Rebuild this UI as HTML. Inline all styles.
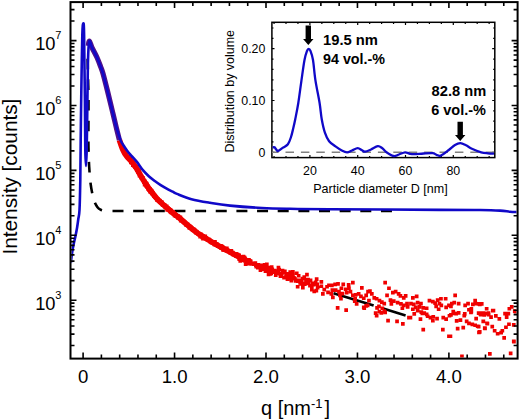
<!DOCTYPE html>
<html><head><meta charset="utf-8"><style>
html,body{margin:0;padding:0;background:#fff;}
svg{display:block;}
</style></head><body>
<svg width="520" height="420" viewBox="0 0 520 420">
<rect width="520" height="420" fill="#fff"/>
<defs><clipPath id="c"><rect x="71.5" y="3" width="445" height="354.6"/></clipPath></defs>
<g clip-path="url(#c)">
<path d="M87.60 58.70 C87.68 62.25 87.95 73.12 88.10 80.00 C88.25 86.88 88.45 90.00 88.50 100.00 C88.55 110.00 88.37 130.83 88.40 140.00 C88.43 149.17 88.57 150.50 88.70 155.00 C88.83 159.50 88.92 162.50 89.20 167.00 C89.48 171.50 89.87 177.50 90.40 182.00 C90.93 186.50 91.72 190.70 92.40 194.00 C93.08 197.30 93.65 199.60 94.50 201.80 C95.35 204.00 96.50 205.88 97.50 207.20 C98.50 208.52 99.42 209.10 100.50 209.70 C101.58 210.30 103.08 210.58 104.00 210.80 C104.92 211.02 105.67 210.97 106.00 211.00" stroke="#000" stroke-width="2.6" fill="none" stroke-dasharray="10.7 9.95"/>
<path d="M112.5 211H400" stroke="#000" stroke-width="2.6" fill="none" stroke-dasharray="11 9.65"/>
<path d="M119.40 140.00 C119.97 141.58 121.60 146.80 122.80 149.50 C124.00 152.20 125.18 154.25 126.60 156.20 C128.02 158.15 129.72 159.30 131.30 161.20 C132.88 163.10 134.67 165.42 136.10 167.60 C137.53 169.78 138.70 172.23 139.90 174.30 C141.10 176.37 141.62 177.38 143.30 180.00 C144.98 182.62 147.77 186.95 150.00 190.00 C152.23 193.05 154.75 196.08 156.70 198.30 C158.65 200.52 159.48 201.27 161.70 203.30 C163.92 205.33 166.95 207.97 170.00 210.50 C173.05 213.03 175.77 215.00 180.00 218.50 C184.23 222.00 190.27 227.70 195.40 231.50 C200.53 235.30 205.67 238.22 210.80 241.30 C215.93 244.38 221.08 247.18 226.20 250.00 C231.32 252.82 237.53 256.20 241.50 258.20 C245.47 260.20 248.58 261.37 250.00 262.00" stroke="#f00000" stroke-width="5.6" fill="none" stroke-linejoin="round"/>
<path d="M125.9 155.3h3.6v3.6h-3.6zM126.8 154.8h3.6v3.6h-3.6zM126.9 155.2h3.6v3.6h-3.6zM127.6 157.2h3.6v3.6h-3.6zM128.0 157.0h3.6v3.6h-3.6zM128.0 157.5h3.6v3.6h-3.6zM128.0 158.1h3.6v3.6h-3.6zM128.1 158.1h3.6v3.6h-3.6zM129.1 158.7h3.6v3.6h-3.6zM129.0 160.6h3.6v3.6h-3.6zM129.5 159.0h3.6v3.6h-3.6zM129.8 159.4h3.6v3.6h-3.6zM129.9 159.8h3.6v3.6h-3.6zM131.1 160.5h3.6v3.6h-3.6zM130.7 161.3h3.6v3.6h-3.6zM131.6 161.0h3.6v3.6h-3.6zM131.0 163.3h3.6v3.6h-3.6zM131.0 161.7h3.6v3.6h-3.6zM132.0 163.9h3.6v3.6h-3.6zM131.8 161.0h3.6v3.6h-3.6zM132.6 162.7h3.6v3.6h-3.6zM132.5 163.8h3.6v3.6h-3.6zM133.0 164.1h3.6v3.6h-3.6zM133.1 165.1h3.6v3.6h-3.6zM134.0 164.7h3.6v3.6h-3.6zM133.6 165.5h3.6v3.6h-3.6zM134.2 164.7h3.6v3.6h-3.6zM134.1 166.5h3.6v3.6h-3.6zM134.5 166.0h3.6v3.6h-3.6zM134.9 166.6h3.6v3.6h-3.6zM135.0 165.6h3.6v3.6h-3.6zM135.9 167.5h3.6v3.6h-3.6zM135.2 168.5h3.6v3.6h-3.6zM135.8 168.2h3.6v3.6h-3.6zM136.3 170.2h3.6v3.6h-3.6zM136.4 170.1h3.6v3.6h-3.6zM137.2 168.7h3.6v3.6h-3.6zM136.4 170.3h3.6v3.6h-3.6zM136.2 170.0h3.6v3.6h-3.6zM137.5 171.3h3.6v3.6h-3.6zM137.5 169.7h3.6v3.6h-3.6zM138.3 171.8h3.6v3.6h-3.6zM137.9 172.1h3.6v3.6h-3.6zM137.3 171.1h3.6v3.6h-3.6zM137.7 173.8h3.6v3.6h-3.6zM138.1 172.8h3.6v3.6h-3.6zM138.5 173.7h3.6v3.6h-3.6zM139.0 173.9h3.6v3.6h-3.6zM138.6 171.9h3.6v3.6h-3.6zM139.3 174.6h3.6v3.6h-3.6zM139.8 174.7h3.6v3.6h-3.6zM139.4 175.4h3.6v3.6h-3.6zM139.3 174.8h3.6v3.6h-3.6zM139.7 176.1h3.6v3.6h-3.6zM141.0 176.8h3.6v3.6h-3.6zM141.0 176.9h3.6v3.6h-3.6zM140.9 176.9h3.6v3.6h-3.6zM141.1 176.0h3.6v3.6h-3.6zM141.1 177.3h3.6v3.6h-3.6zM142.0 179.0h3.6v3.6h-3.6zM142.3 179.9h3.6v3.6h-3.6zM142.0 179.9h3.6v3.6h-3.6zM143.0 179.5h3.6v3.6h-3.6zM143.0 179.8h3.6v3.6h-3.6zM142.3 180.3h3.6v3.6h-3.6zM142.8 180.7h3.6v3.6h-3.6zM143.2 181.2h3.6v3.6h-3.6zM142.8 182.9h3.6v3.6h-3.6zM144.3 181.6h3.6v3.6h-3.6zM143.8 182.2h3.6v3.6h-3.6zM144.6 182.9h3.6v3.6h-3.6zM144.8 181.7h3.6v3.6h-3.6zM144.5 184.4h3.6v3.6h-3.6zM145.3 182.8h3.6v3.6h-3.6zM145.2 183.3h3.6v3.6h-3.6zM145.4 185.5h3.6v3.6h-3.6zM146.0 185.9h3.6v3.6h-3.6zM146.4 184.5h3.6v3.6h-3.6zM146.4 187.5h3.6v3.6h-3.6zM146.6 185.6h3.6v3.6h-3.6zM147.6 186.8h3.6v3.6h-3.6zM147.4 188.1h3.6v3.6h-3.6zM147.0 187.8h3.6v3.6h-3.6zM147.6 186.8h3.6v3.6h-3.6zM147.9 189.0h3.6v3.6h-3.6zM148.4 187.3h3.6v3.6h-3.6zM148.4 190.1h3.6v3.6h-3.6zM149.5 188.6h3.6v3.6h-3.6zM150.3 189.5h3.6v3.6h-3.6zM149.3 190.1h3.6v3.6h-3.6zM150.3 191.7h3.6v3.6h-3.6zM150.7 190.7h3.6v3.6h-3.6zM150.4 190.3h3.6v3.6h-3.6zM150.9 191.3h3.6v3.6h-3.6zM151.3 191.2h3.6v3.6h-3.6zM151.3 191.8h3.6v3.6h-3.6zM151.4 192.0h3.6v3.6h-3.6zM151.7 192.4h3.6v3.6h-3.6zM152.6 193.6h3.6v3.6h-3.6zM152.2 194.3h3.6v3.6h-3.6zM153.1 195.3h3.6v3.6h-3.6zM153.2 194.5h3.6v3.6h-3.6zM153.3 195.0h3.6v3.6h-3.6zM154.0 195.4h3.6v3.6h-3.6zM154.0 196.0h3.6v3.6h-3.6zM154.4 196.1h3.6v3.6h-3.6zM154.3 196.4h3.6v3.6h-3.6zM154.5 195.9h3.6v3.6h-3.6zM155.3 198.4h3.6v3.6h-3.6zM156.0 197.3h3.6v3.6h-3.6zM155.9 198.4h3.6v3.6h-3.6zM156.8 198.9h3.6v3.6h-3.6zM156.5 198.5h3.6v3.6h-3.6zM156.7 198.4h3.6v3.6h-3.6zM156.8 198.7h3.6v3.6h-3.6zM156.7 198.4h3.6v3.6h-3.6zM157.9 198.8h3.6v3.6h-3.6zM158.2 198.9h3.6v3.6h-3.6zM158.2 200.4h3.6v3.6h-3.6zM158.3 199.9h3.6v3.6h-3.6zM160.0 200.3h3.6v3.6h-3.6zM159.2 200.7h3.6v3.6h-3.6zM159.9 201.5h3.6v3.6h-3.6zM160.5 202.3h3.6v3.6h-3.6zM160.3 201.8h3.6v3.6h-3.6zM160.3 201.2h3.6v3.6h-3.6zM160.8 203.1h3.6v3.6h-3.6zM161.4 203.4h3.6v3.6h-3.6zM162.0 203.0h3.6v3.6h-3.6zM162.8 203.0h3.6v3.6h-3.6zM162.1 203.4h3.6v3.6h-3.6zM163.1 203.9h3.6v3.6h-3.6zM162.8 204.6h3.6v3.6h-3.6zM163.8 204.5h3.6v3.6h-3.6zM163.6 205.7h3.6v3.6h-3.6zM164.4 205.9h3.6v3.6h-3.6zM164.2 205.7h3.6v3.6h-3.6zM164.9 204.6h3.6v3.6h-3.6zM165.6 206.2h3.6v3.6h-3.6zM165.4 208.1h3.6v3.6h-3.6zM166.0 206.3h3.6v3.6h-3.6zM166.3 207.5h3.6v3.6h-3.6zM167.0 207.4h3.6v3.6h-3.6zM166.7 207.2h3.6v3.6h-3.6zM167.1 207.3h3.6v3.6h-3.6zM167.8 208.0h3.6v3.6h-3.6zM168.2 208.1h3.6v3.6h-3.6zM168.2 208.8h3.6v3.6h-3.6zM168.7 210.1h3.6v3.6h-3.6zM168.8 209.6h3.6v3.6h-3.6zM169.5 208.8h3.6v3.6h-3.6zM170.1 210.1h3.6v3.6h-3.6zM169.4 210.7h3.6v3.6h-3.6zM170.8 210.0h3.6v3.6h-3.6zM171.4 210.9h3.6v3.6h-3.6zM170.7 211.4h3.6v3.6h-3.6zM171.3 210.3h3.6v3.6h-3.6zM171.0 211.7h3.6v3.6h-3.6zM171.8 212.3h3.6v3.6h-3.6zM172.6 211.7h3.6v3.6h-3.6zM172.6 213.6h3.6v3.6h-3.6zM173.7 213.1h3.6v3.6h-3.6zM173.3 212.2h3.6v3.6h-3.6zM173.7 214.3h3.6v3.6h-3.6zM174.3 213.2h3.6v3.6h-3.6zM174.1 213.8h3.6v3.6h-3.6zM174.6 214.0h3.6v3.6h-3.6zM175.5 215.1h3.6v3.6h-3.6zM175.7 214.4h3.6v3.6h-3.6zM176.1 216.2h3.6v3.6h-3.6zM176.6 214.3h3.6v3.6h-3.6zM177.4 215.8h3.6v3.6h-3.6zM178.6 215.6h3.6v3.6h-3.6zM177.7 216.1h3.6v3.6h-3.6zM178.3 216.3h3.6v3.6h-3.6zM178.0 215.6h3.6v3.6h-3.6zM178.7 216.8h3.6v3.6h-3.6zM178.9 219.0h3.6v3.6h-3.6zM179.7 218.5h3.6v3.6h-3.6zM179.5 218.2h3.6v3.6h-3.6zM180.0 218.1h3.6v3.6h-3.6zM180.6 219.0h3.6v3.6h-3.6zM180.8 218.9h3.6v3.6h-3.6zM180.5 218.6h3.6v3.6h-3.6zM181.5 219.1h3.6v3.6h-3.6zM181.4 219.9h3.6v3.6h-3.6zM181.7 219.5h3.6v3.6h-3.6zM182.7 220.0h3.6v3.6h-3.6zM183.2 220.9h3.6v3.6h-3.6zM183.3 221.7h3.6v3.6h-3.6zM182.6 221.1h3.6v3.6h-3.6zM183.3 221.2h3.6v3.6h-3.6zM184.1 222.7h3.6v3.6h-3.6zM184.5 223.3h3.6v3.6h-3.6zM184.6 222.4h3.6v3.6h-3.6zM185.2 223.4h3.6v3.6h-3.6zM185.5 222.6h3.6v3.6h-3.6zM185.8 222.4h3.6v3.6h-3.6zM186.7 224.3h3.6v3.6h-3.6zM186.8 224.2h3.6v3.6h-3.6zM186.8 224.1h3.6v3.6h-3.6zM187.7 224.1h3.6v3.6h-3.6zM187.5 226.1h3.6v3.6h-3.6zM188.7 225.5h3.6v3.6h-3.6zM188.7 225.8h3.6v3.6h-3.6zM189.4 225.6h3.6v3.6h-3.6zM189.3 226.6h3.6v3.6h-3.6zM190.1 226.4h3.6v3.6h-3.6zM190.1 226.5h3.6v3.6h-3.6zM190.1 226.7h3.6v3.6h-3.6zM190.8 228.1h3.6v3.6h-3.6zM190.8 227.3h3.6v3.6h-3.6zM191.3 228.3h3.6v3.6h-3.6zM192.1 227.5h3.6v3.6h-3.6zM192.3 227.9h3.6v3.6h-3.6zM192.8 228.2h3.6v3.6h-3.6zM192.5 228.7h3.6v3.6h-3.6zM193.2 228.7h3.6v3.6h-3.6zM193.7 229.8h3.6v3.6h-3.6zM194.0 230.2h3.6v3.6h-3.6zM194.7 229.7h3.6v3.6h-3.6zM194.8 230.5h3.6v3.6h-3.6zM194.4 231.1h3.6v3.6h-3.6zM195.3 230.6h3.6v3.6h-3.6zM195.8 231.4h3.6v3.6h-3.6zM196.4 232.0h3.6v3.6h-3.6zM196.4 232.4h3.6v3.6h-3.6zM197.2 231.9h3.6v3.6h-3.6zM197.4 233.0h3.6v3.6h-3.6zM198.0 233.1h3.6v3.6h-3.6zM198.3 233.9h3.6v3.6h-3.6zM199.6 233.6h3.6v3.6h-3.6zM198.3 235.0h3.6v3.6h-3.6zM199.1 232.4h3.6v3.6h-3.6zM198.7 234.3h3.6v3.6h-3.6zM200.6 235.0h3.6v3.6h-3.6zM200.4 235.7h3.6v3.6h-3.6zM200.9 234.1h3.6v3.6h-3.6zM201.3 235.1h3.6v3.6h-3.6zM201.7 235.5h3.6v3.6h-3.6zM201.1 236.8h3.6v3.6h-3.6zM202.2 236.2h3.6v3.6h-3.6zM202.5 236.0h3.6v3.6h-3.6zM203.1 234.6h3.6v3.6h-3.6zM203.8 236.8h3.6v3.6h-3.6zM203.5 234.6h3.6v3.6h-3.6zM204.1 236.0h3.6v3.6h-3.6zM204.8 237.0h3.6v3.6h-3.6zM205.9 237.8h3.6v3.6h-3.6zM205.4 237.6h3.6v3.6h-3.6zM204.6 236.8h3.6v3.6h-3.6zM205.9 237.8h3.6v3.6h-3.6zM206.8 238.3h3.6v3.6h-3.6zM207.5 237.7h3.6v3.6h-3.6zM207.6 238.5h3.6v3.6h-3.6zM207.9 239.1h3.6v3.6h-3.6zM208.1 239.2h3.6v3.6h-3.6zM208.6 240.2h3.6v3.6h-3.6zM208.9 239.8h3.6v3.6h-3.6zM210.6 240.3h3.6v3.6h-3.6zM210.0 240.9h3.6v3.6h-3.6zM209.7 240.8h3.6v3.6h-3.6zM210.9 240.8h3.6v3.6h-3.6zM211.4 241.4h3.6v3.6h-3.6zM211.9 240.3h3.6v3.6h-3.6zM212.0 240.6h3.6v3.6h-3.6zM212.7 241.5h3.6v3.6h-3.6zM212.0 241.7h3.6v3.6h-3.6zM212.5 242.7h3.6v3.6h-3.6zM213.2 240.1h3.6v3.6h-3.6zM213.6 243.2h3.6v3.6h-3.6zM214.3 241.9h3.6v3.6h-3.6zM214.8 243.2h3.6v3.6h-3.6zM215.6 243.8h3.6v3.6h-3.6zM215.5 242.5h3.6v3.6h-3.6zM215.8 243.7h3.6v3.6h-3.6zM216.1 244.0h3.6v3.6h-3.6zM216.0 244.4h3.6v3.6h-3.6zM216.9 244.4h3.6v3.6h-3.6zM217.3 244.0h3.6v3.6h-3.6zM217.8 245.2h3.6v3.6h-3.6zM217.9 245.0h3.6v3.6h-3.6zM218.1 245.3h3.6v3.6h-3.6zM218.9 244.0h3.6v3.6h-3.6zM219.8 244.6h3.6v3.6h-3.6zM219.7 244.4h3.6v3.6h-3.6zM219.3 246.4h3.6v3.6h-3.6zM219.8 244.2h3.6v3.6h-3.6zM220.8 244.9h3.6v3.6h-3.6zM221.2 248.1h3.6v3.6h-3.6zM221.5 247.0h3.6v3.6h-3.6zM222.3 247.1h3.6v3.6h-3.6zM222.4 248.5h3.6v3.6h-3.6zM222.8 247.7h3.6v3.6h-3.6zM223.3 246.4h3.6v3.6h-3.6zM223.8 247.8h3.6v3.6h-3.6zM224.3 248.6h3.6v3.6h-3.6zM225.1 246.5h3.6v3.6h-3.6zM224.6 248.0h3.6v3.6h-3.6zM224.8 249.0h3.6v3.6h-3.6zM225.6 249.0h3.6v3.6h-3.6zM225.3 248.3h3.6v3.6h-3.6zM226.4 248.9h3.6v3.6h-3.6zM226.6 249.5h3.6v3.6h-3.6zM227.2 248.9h3.6v3.6h-3.6zM228.5 249.4h3.6v3.6h-3.6zM228.5 250.8h3.6v3.6h-3.6zM229.0 250.0h3.6v3.6h-3.6zM228.6 251.1h3.6v3.6h-3.6zM229.6 248.9h3.6v3.6h-3.6zM228.7 250.7h3.6v3.6h-3.6zM230.2 251.2h3.6v3.6h-3.6zM231.0 250.8h3.6v3.6h-3.6zM232.4 252.7h3.6v3.6h-3.6zM232.2 252.4h3.6v3.6h-3.6zM231.1 252.6h3.6v3.6h-3.6zM232.2 253.0h3.6v3.6h-3.6zM232.9 253.4h3.6v3.6h-3.6zM232.9 252.7h3.6v3.6h-3.6zM233.7 252.6h3.6v3.6h-3.6zM234.0 254.1h3.6v3.6h-3.6zM235.4 253.5h3.6v3.6h-3.6zM235.3 252.9h3.6v3.6h-3.6zM235.2 254.4h3.6v3.6h-3.6zM236.0 253.5h3.6v3.6h-3.6zM236.4 254.7h3.6v3.6h-3.6zM237.1 255.6h3.6v3.6h-3.6zM237.2 254.6h3.6v3.6h-3.6zM237.4 254.4h3.6v3.6h-3.6zM237.3 253.7h3.6v3.6h-3.6zM237.4 254.4h3.6v3.6h-3.6zM238.3 255.8h3.6v3.6h-3.6zM238.1 255.8h3.6v3.6h-3.6zM239.2 256.9h3.6v3.6h-3.6zM239.3 256.4h3.6v3.6h-3.6zM239.5 257.2h3.6v3.6h-3.6zM239.6 256.9h3.6v3.6h-3.6zM239.8 258.5h3.6v3.6h-3.6zM241.8 255.4h3.6v3.6h-3.6zM241.7 256.2h3.6v3.6h-3.6zM241.7 257.4h3.6v3.6h-3.6zM242.6 258.9h3.6v3.6h-3.6zM243.3 257.2h3.6v3.6h-3.6zM244.0 258.8h3.6v3.6h-3.6zM244.8 259.1h3.6v3.6h-3.6zM244.2 258.1h3.6v3.6h-3.6zM245.2 258.2h3.6v3.6h-3.6zM246.1 258.9h3.6v3.6h-3.6zM246.1 259.0h3.6v3.6h-3.6zM246.5 258.1h3.6v3.6h-3.6zM247.8 259.1h3.6v3.6h-3.6zM246.8 258.2h3.6v3.6h-3.6zM247.4 258.6h3.6v3.6h-3.6zM247.9 261.0h3.6v3.6h-3.6zM248.2 259.7h3.6v3.6h-3.6z" fill="#f00000"/>
<path d="M88.30 46.00 C88.48 45.20 88.78 40.93 89.40 41.20 C90.02 41.47 90.75 44.92 92.00 47.60 C93.25 50.28 95.45 54.10 96.90 57.30 C98.35 60.50 99.68 64.10 100.70 66.80 C101.72 69.50 101.87 69.47 103.00 73.50 C104.13 77.53 105.98 84.92 107.50 91.00 C109.02 97.08 110.62 103.83 112.10 110.00 C113.58 116.17 115.18 123.00 116.40 128.00 C117.62 133.00 118.90 138.00 119.40 140.00" stroke="#50108a" stroke-width="5.2" fill="none" stroke-linejoin="round"/>
<path d="M333.5 293.2 L405.6 315.4" stroke="#000" stroke-width="2.6" fill="none" stroke-dasharray="42 10"/>
<path d="M234.2 252.0h3.7v3.7h-3.7zM234.9 254.4h3.7v3.7h-3.7zM235.5 252.5h3.7v3.7h-3.7zM235.9 254.4h3.7v3.7h-3.7zM236.5 253.2h3.7v3.7h-3.7zM236.9 253.3h3.7v3.7h-3.7zM237.4 257.2h3.7v3.7h-3.7zM238.0 256.9h3.7v3.7h-3.7zM238.4 259.1h3.7v3.7h-3.7zM239.0 255.6h3.7v3.7h-3.7zM239.7 256.4h3.7v3.7h-3.7zM240.3 256.7h3.7v3.7h-3.7zM240.6 257.0h3.7v3.7h-3.7zM241.0 257.7h3.7v3.7h-3.7zM241.6 254.8h3.7v3.7h-3.7zM242.1 258.2h3.7v3.7h-3.7zM242.8 255.7h3.7v3.7h-3.7zM243.3 257.8h3.7v3.7h-3.7zM243.8 262.3h3.7v3.7h-3.7zM244.5 258.3h3.7v3.7h-3.7zM245.2 258.2h3.7v3.7h-3.7zM245.7 259.7h3.7v3.7h-3.7zM246.1 259.1h3.7v3.7h-3.7zM246.8 258.0h3.7v3.7h-3.7zM247.3 261.9h3.7v3.7h-3.7zM247.7 259.0h3.7v3.7h-3.7zM248.1 261.1h3.7v3.7h-3.7zM248.9 259.4h3.7v3.7h-3.7zM249.4 262.1h3.7v3.7h-3.7zM250.1 261.5h3.7v3.7h-3.7zM250.6 262.0h3.7v3.7h-3.7zM251.4 261.9h3.7v3.7h-3.7zM252.1 262.3h3.7v3.7h-3.7zM252.5 262.4h3.7v3.7h-3.7zM252.9 262.1h3.7v3.7h-3.7zM253.5 261.2h3.7v3.7h-3.7zM254.0 263.2h3.7v3.7h-3.7zM254.4 264.8h3.7v3.7h-3.7zM255.1 264.0h3.7v3.7h-3.7zM255.5 264.1h3.7v3.7h-3.7zM256.0 265.9h3.7v3.7h-3.7zM256.5 262.9h3.7v3.7h-3.7zM257.2 264.1h3.7v3.7h-3.7zM257.9 265.6h3.7v3.7h-3.7zM258.6 268.3h3.7v3.7h-3.7zM259.0 267.4h3.7v3.7h-3.7zM259.5 264.9h3.7v3.7h-3.7zM260.0 263.4h3.7v3.7h-3.7zM260.4 266.9h3.7v3.7h-3.7zM260.8 266.4h3.7v3.7h-3.7zM261.4 264.2h3.7v3.7h-3.7zM262.2 267.2h3.7v3.7h-3.7zM262.8 262.9h3.7v3.7h-3.7zM263.2 264.6h3.7v3.7h-3.7zM263.6 269.2h3.7v3.7h-3.7zM264.1 264.8h3.7v3.7h-3.7zM264.5 266.5h3.7v3.7h-3.7zM265.0 262.6h3.7v3.7h-3.7zM265.8 269.2h3.7v3.7h-3.7zM266.3 265.8h3.7v3.7h-3.7zM266.7 272.5h3.7v3.7h-3.7zM267.2 269.1h3.7v3.7h-3.7zM267.8 268.1h3.7v3.7h-3.7zM268.4 272.1h3.7v3.7h-3.7zM268.9 270.0h3.7v3.7h-3.7zM269.3 271.6h3.7v3.7h-3.7zM269.8 265.2h3.7v3.7h-3.7zM270.4 267.6h3.7v3.7h-3.7zM270.9 270.4h3.7v3.7h-3.7zM271.2 268.7h3.7v3.7h-3.7zM271.7 268.8h3.7v3.7h-3.7zM272.1 269.9h3.7v3.7h-3.7zM272.6 268.8h3.7v3.7h-3.7zM273.1 269.5h3.7v3.7h-3.7zM273.9 273.3h3.7v3.7h-3.7zM274.6 270.0h3.7v3.7h-3.7zM275.2 271.0h3.7v3.7h-3.7zM275.5 271.2h3.7v3.7h-3.7zM276.3 269.3h3.7v3.7h-3.7zM276.6 265.7h3.7v3.7h-3.7zM277.3 267.7h3.7v3.7h-3.7zM277.8 271.9h3.7v3.7h-3.7zM278.6 274.3h3.7v3.7h-3.7zM279.3 273.3h3.7v3.7h-3.7zM280.0 271.9h3.7v3.7h-3.7zM280.7 268.8h3.7v3.7h-3.7zM281.5 270.5h3.7v3.7h-3.7zM282.2 275.9h3.7v3.7h-3.7zM283.0 269.4h3.7v3.7h-3.7zM283.7 275.6h3.7v3.7h-3.7zM284.3 271.9h3.7v3.7h-3.7zM284.9 272.1h3.7v3.7h-3.7zM285.6 277.2h3.7v3.7h-3.7zM286.4 276.0h3.7v3.7h-3.7zM287.1 274.2h3.7v3.7h-3.7zM287.8 272.2h3.7v3.7h-3.7zM288.4 270.3h3.7v3.7h-3.7zM288.8 276.9h3.7v3.7h-3.7zM289.5 278.8h3.7v3.7h-3.7zM290.0 276.1h3.7v3.7h-3.7zM290.5 274.6h3.7v3.7h-3.7zM291.1 272.8h3.7v3.7h-3.7zM291.9 276.0h3.7v3.7h-3.7zM292.4 276.6h3.7v3.7h-3.7zM293.0 276.9h3.7v3.7h-3.7zM293.8 278.2h3.7v3.7h-3.7zM294.9 271.4h3.7v3.7h-3.7zM295.9 279.4h3.7v3.7h-3.7zM297.0 278.6h3.7v3.7h-3.7zM298.3 281.0h3.7v3.7h-3.7zM299.6 280.6h3.7v3.7h-3.7zM300.7 276.8h3.7v3.7h-3.7zM301.7 281.4h3.7v3.7h-3.7zM303.0 282.2h3.7v3.7h-3.7zM304.2 278.1h3.7v3.7h-3.7zM305.1 272.7h3.7v3.7h-3.7zM306.0 278.0h3.7v3.7h-3.7zM306.8 281.5h3.7v3.7h-3.7zM307.8 278.4h3.7v3.7h-3.7zM308.7 278.6h3.7v3.7h-3.7zM310.0 285.3h3.7v3.7h-3.7zM310.8 281.5h3.7v3.7h-3.7zM311.5 282.8h3.7v3.7h-3.7zM312.7 281.8h3.7v3.7h-3.7zM313.8 280.6h3.7v3.7h-3.7zM314.5 288.8h3.7v3.7h-3.7zM315.3 282.5h3.7v3.7h-3.7zM330.0 283.6h3.7v3.7h-3.7zM333.3 282.6h3.7v3.7h-3.7zM336.2 282.1h3.7v3.7h-3.7zM341.4 282.6h3.7v3.7h-3.7zM346.8 283.1h3.7v3.7h-3.7zM351.0 280.8h3.7v3.7h-3.7zM347.1 286.4h3.7v3.7h-3.7zM343.8 287.4h3.7v3.7h-3.7zM339.5 286.4h3.7v3.7h-3.7zM337.1 289.8h3.7v3.7h-3.7zM333.8 288.3h3.7v3.7h-3.7zM330.5 288.3h3.7v3.7h-3.7zM329.5 292.1h3.7v3.7h-3.7zM331.0 295.5h3.7v3.7h-3.7zM338.1 293.6h3.7v3.7h-3.7zM340.5 291.8h3.7v3.7h-3.7zM344.8 290.8h3.7v3.7h-3.7zM348.6 289.8h3.7v3.7h-3.7zM351.0 293.6h3.7v3.7h-3.7zM353.8 293.1h3.7v3.7h-3.7zM356.8 292.1h3.7v3.7h-3.7zM360.0 286.0h3.7v3.7h-3.7zM359.1 294.5h3.7v3.7h-3.7zM361.9 296.4h3.7v3.7h-3.7zM364.3 293.6h3.7v3.7h-3.7zM366.2 289.8h3.7v3.7h-3.7zM339.1 296.9h3.7v3.7h-3.7zM352.9 299.3h3.7v3.7h-3.7zM354.8 302.1h3.7v3.7h-3.7zM353.3 296.9h3.7v3.7h-3.7zM335.8 306.0h3.7v3.7h-3.7zM344.3 308.3h3.7v3.7h-3.7zM361.9 305.5h3.7v3.7h-3.7zM365.8 303.6h3.7v3.7h-3.7zM367.1 298.8h3.7v3.7h-3.7zM362.4 306.4h3.7v3.7h-3.7zM364.3 304.1h3.7v3.7h-3.7zM383.3 280.8h3.7v3.7h-3.7zM387.1 286.4h3.7v3.7h-3.7zM391.0 290.8h3.7v3.7h-3.7zM393.8 289.8h3.7v3.7h-3.7zM396.8 292.1h3.7v3.7h-3.7zM398.6 294.1h3.7v3.7h-3.7zM403.8 294.1h3.7v3.7h-3.7zM401.9 296.0h3.7v3.7h-3.7zM385.2 293.6h3.7v3.7h-3.7zM388.6 298.3h3.7v3.7h-3.7zM391.9 299.3h3.7v3.7h-3.7zM389.5 302.1h3.7v3.7h-3.7zM395.8 300.8h3.7v3.7h-3.7zM399.1 302.1h3.7v3.7h-3.7zM401.9 303.6h3.7v3.7h-3.7zM405.2 301.8h3.7v3.7h-3.7zM368.1 289.3h3.7v3.7h-3.7zM370.0 292.1h3.7v3.7h-3.7zM372.4 296.0h3.7v3.7h-3.7zM374.8 296.9h3.7v3.7h-3.7zM377.6 298.8h3.7v3.7h-3.7zM380.0 300.2h3.7v3.7h-3.7zM382.4 301.8h3.7v3.7h-3.7zM377.1 304.5h3.7v3.7h-3.7zM375.2 306.0h3.7v3.7h-3.7zM380.5 306.4h3.7v3.7h-3.7zM377.6 309.8h3.7v3.7h-3.7zM373.8 311.2h3.7v3.7h-3.7zM382.4 309.3h3.7v3.7h-3.7zM405.8 305.0h3.7v3.7h-3.7zM400.5 306.4h3.7v3.7h-3.7zM374.8 313.9h3.7v3.7h-3.7zM379.5 311.1h3.7v3.7h-3.7zM383.3 310.6h3.7v3.7h-3.7zM386.2 318.8h3.7v3.7h-3.7zM395.2 319.6h3.7v3.7h-3.7zM401.0 322.0h3.7v3.7h-3.7zM407.1 315.8h3.7v3.7h-3.7zM411.0 296.0h3.7v3.7h-3.7zM414.8 294.5h3.7v3.7h-3.7zM409.1 301.8h3.7v3.7h-3.7zM411.9 302.6h3.7v3.7h-3.7zM415.8 300.8h3.7v3.7h-3.7zM419.1 301.8h3.7v3.7h-3.7zM413.8 305.5h3.7v3.7h-3.7zM417.6 305.0h3.7v3.7h-3.7zM421.4 306.0h3.7v3.7h-3.7zM424.8 306.4h3.7v3.7h-3.7zM411.0 307.4h3.7v3.7h-3.7zM415.8 308.8h3.7v3.7h-3.7zM419.5 310.2h3.7v3.7h-3.7zM422.4 311.2h3.7v3.7h-3.7zM427.6 298.8h3.7v3.7h-3.7zM431.0 299.8h3.7v3.7h-3.7zM433.3 301.2h3.7v3.7h-3.7zM435.8 298.3h3.7v3.7h-3.7zM439.1 296.9h3.7v3.7h-3.7zM443.8 296.9h3.7v3.7h-3.7zM437.6 301.8h3.7v3.7h-3.7zM434.3 304.5h3.7v3.7h-3.7zM439.5 303.6h3.7v3.7h-3.7zM436.8 307.4h3.7v3.7h-3.7zM444.3 305.5h3.7v3.7h-3.7zM447.1 303.6h3.7v3.7h-3.7zM408.6 315.8h3.7v3.7h-3.7zM412.4 312.0h3.7v3.7h-3.7zM418.6 317.2h3.7v3.7h-3.7zM420.5 311.5h3.7v3.7h-3.7zM424.8 312.5h3.7v3.7h-3.7zM425.8 314.4h3.7v3.7h-3.7zM428.6 315.8h3.7v3.7h-3.7zM431.0 318.8h3.7v3.7h-3.7zM431.4 314.9h3.7v3.7h-3.7zM435.2 316.8h3.7v3.7h-3.7zM441.4 315.8h3.7v3.7h-3.7zM444.3 317.2h3.7v3.7h-3.7zM447.6 313.9h3.7v3.7h-3.7zM421.4 327.8h3.7v3.7h-3.7zM441.0 327.8h3.7v3.7h-3.7zM447.1 334.4h3.7v3.7h-3.7zM453.3 293.6h3.7v3.7h-3.7zM450.0 301.8h3.7v3.7h-3.7zM452.4 300.8h3.7v3.7h-3.7zM456.8 301.8h3.7v3.7h-3.7zM449.1 304.5h3.7v3.7h-3.7zM451.4 309.8h3.7v3.7h-3.7zM454.3 311.8h3.7v3.7h-3.7zM463.3 303.6h3.7v3.7h-3.7zM466.2 301.8h3.7v3.7h-3.7zM467.1 307.9h3.7v3.7h-3.7zM469.5 306.9h3.7v3.7h-3.7zM469.5 309.8h3.7v3.7h-3.7zM471.0 302.6h3.7v3.7h-3.7zM473.3 298.8h3.7v3.7h-3.7zM473.8 301.8h3.7v3.7h-3.7zM476.8 302.1h3.7v3.7h-3.7zM479.5 302.1h3.7v3.7h-3.7zM484.8 306.9h3.7v3.7h-3.7zM476.8 311.2h3.7v3.7h-3.7zM479.5 311.2h3.7v3.7h-3.7zM462.9 312.1h3.7v3.7h-3.7zM449.1 313.0h3.7v3.7h-3.7zM451.9 311.5h3.7v3.7h-3.7zM456.8 311.1h3.7v3.7h-3.7zM462.4 313.9h3.7v3.7h-3.7zM454.8 319.1h3.7v3.7h-3.7zM458.6 318.2h3.7v3.7h-3.7zM464.8 319.6h3.7v3.7h-3.7zM467.1 321.5h3.7v3.7h-3.7zM470.5 322.5h3.7v3.7h-3.7zM473.3 323.4h3.7v3.7h-3.7zM475.8 324.4h3.7v3.7h-3.7zM474.3 316.8h3.7v3.7h-3.7zM478.6 312.5h3.7v3.7h-3.7zM482.4 313.0h3.7v3.7h-3.7zM481.4 319.6h3.7v3.7h-3.7zM485.2 321.5h3.7v3.7h-3.7zM482.9 326.3h3.7v3.7h-3.7zM477.1 330.6h3.7v3.7h-3.7zM455.8 326.8h3.7v3.7h-3.7zM461.4 325.8h3.7v3.7h-3.7zM448.6 334.4h3.7v3.7h-3.7zM469.1 310.6h3.7v3.7h-3.7zM478.0 302.6h3.7v3.7h-3.7zM479.9 302.1h3.7v3.7h-3.7zM484.8 306.9h3.7v3.7h-3.7zM490.9 308.8h3.7v3.7h-3.7zM481.8 311.2h3.7v3.7h-3.7zM486.6 311.2h3.7v3.7h-3.7zM503.2 311.8h3.7v3.7h-3.7zM507.5 306.9h3.7v3.7h-3.7zM509.9 305.0h3.7v3.7h-3.7zM512.9 309.3h3.7v3.7h-3.7zM479.1 312.9h3.7v3.7h-3.7zM483.2 311.8h3.7v3.7h-3.7zM486.8 312.9h3.7v3.7h-3.7zM489.2 315.2h3.7v3.7h-3.7zM494.0 314.1h3.7v3.7h-3.7zM497.5 317.0h3.7v3.7h-3.7zM491.6 308.8h3.7v3.7h-3.7zM481.5 319.4h3.7v3.7h-3.7zM485.6 321.8h3.7v3.7h-3.7zM476.8 324.8h3.7v3.7h-3.7zM483.2 326.6h3.7v3.7h-3.7zM477.9 330.1h3.7v3.7h-3.7zM490.4 324.8h3.7v3.7h-3.7zM492.8 328.9h3.7v3.7h-3.7zM495.8 331.9h3.7v3.7h-3.7zM499.3 330.8h3.7v3.7h-3.7zM500.5 328.9h3.7v3.7h-3.7zM504.1 325.4h3.7v3.7h-3.7zM504.8 315.2h3.7v3.7h-3.7zM506.5 311.8h3.7v3.7h-3.7zM507.1 322.4h3.7v3.7h-3.7zM511.9 323.0h3.7v3.7h-3.7zM502.3 336.1h3.7v3.7h-3.7zM511.9 339.6h3.7v3.7h-3.7zM488.0 352.1h3.7v3.7h-3.7zM508.8 351.6h3.7v3.7h-3.7zM513.6 309.9h3.7v3.7h-3.7zM460.1 354.6h3.7v3.7h-3.7zM512.1 339.8h3.7v3.7h-3.7zM291.0 270.1h3.7v3.7h-3.7zM296.8 273.9h3.7v3.7h-3.7zM302.4 275.3h3.7v3.7h-3.7zM306.2 277.8h3.7v3.7h-3.7zM314.8 277.2h3.7v3.7h-3.7zM319.5 280.1h3.7v3.7h-3.7zM290.0 275.3h3.7v3.7h-3.7zM293.8 279.1h3.7v3.7h-3.7zM295.8 284.9h3.7v3.7h-3.7zM299.5 282.0h3.7v3.7h-3.7zM301.0 285.8h3.7v3.7h-3.7zM304.3 281.1h3.7v3.7h-3.7zM308.1 283.9h3.7v3.7h-3.7zM310.0 287.8h3.7v3.7h-3.7zM312.4 289.6h3.7v3.7h-3.7zM315.8 285.8h3.7v3.7h-3.7zM319.5 284.4h3.7v3.7h-3.7zM322.4 287.8h3.7v3.7h-3.7zM321.0 292.0h3.7v3.7h-3.7zM325.2 284.9h3.7v3.7h-3.7zM327.1 283.4h3.7v3.7h-3.7zM326.2 290.6h3.7v3.7h-3.7z" fill="#f00000"/>
<path d="M70.80 263.00 C71.03 261.17 71.70 255.25 72.20 252.00 C72.70 248.75 73.23 246.25 73.80 243.50 C74.37 240.75 75.05 238.17 75.60 235.50 C76.15 232.83 76.65 230.25 77.10 227.50 C77.55 224.75 77.90 221.92 78.30 219.00 C78.70 216.08 79.17 216.50 79.50 210.00 C79.83 203.50 80.10 191.67 80.30 180.00 C80.50 168.33 80.55 153.33 80.70 140.00 C80.85 126.67 81.02 113.33 81.20 100.00 C81.38 86.67 81.62 70.83 81.80 60.00 C81.98 49.17 82.13 40.83 82.30 35.00 C82.47 29.17 82.63 26.97 82.80 25.00 C82.97 23.03 83.13 23.20 83.30 23.20 C83.47 23.20 83.67 23.03 83.80 25.00 C83.93 26.97 84.00 29.17 84.10 35.00 C84.20 40.83 84.27 49.17 84.40 60.00 C84.53 70.83 84.75 85.00 84.90 100.00 C85.05 115.00 85.12 139.00 85.30 150.00 C85.48 161.00 85.77 166.00 86.00 166.00 C86.23 166.00 86.48 159.33 86.70 150.00 C86.92 140.67 87.12 123.33 87.30 110.00 C87.48 96.67 87.62 80.00 87.80 70.00 C87.98 60.00 88.15 54.75 88.40 50.00 C88.65 45.25 88.98 42.78 89.30 41.50 C89.62 40.22 89.85 41.30 90.30 42.30 C90.75 43.30 90.90 45.00 92.00 47.50 C93.10 50.00 95.45 54.08 96.90 57.30 C98.35 60.52 99.68 64.10 100.70 66.80 C101.72 69.50 101.87 69.47 103.00 73.50 C104.13 77.53 105.98 84.92 107.50 91.00 C109.02 97.08 110.58 103.83 112.10 110.00 C113.62 116.17 115.20 123.00 116.60 128.00 C118.00 133.00 119.33 137.08 120.50 140.00 C121.67 142.92 122.52 143.75 123.60 145.50 C124.68 147.25 125.68 148.78 127.00 150.50 C128.32 152.22 129.85 153.90 131.50 155.80 C133.15 157.70 135.00 159.50 136.90 161.90 C138.80 164.30 140.92 167.82 142.90 170.20 C144.88 172.58 146.82 174.40 148.80 176.20 C150.78 178.00 152.82 179.52 154.80 181.00 C156.78 182.48 158.72 183.82 160.70 185.10 C162.68 186.38 164.72 187.60 166.70 188.70 C168.68 189.80 170.88 190.83 172.60 191.70 C174.32 192.57 173.85 192.65 177.00 193.90 C180.15 195.15 186.00 197.72 191.50 199.20 C197.00 200.68 203.58 201.73 210.00 202.80 C216.42 203.87 221.33 204.73 230.00 205.60 C238.67 206.47 252.00 207.47 262.00 208.00 C272.00 208.53 278.67 208.60 290.00 208.80 C301.33 209.00 305.00 209.02 330.00 209.20 C355.00 209.38 415.00 209.77 440.00 209.90 C465.00 210.03 470.00 209.88 480.00 210.00 C490.00 210.12 495.00 210.32 500.00 210.60 C505.00 210.88 507.17 211.47 510.00 211.70 C512.83 211.93 515.83 211.95 517.00 212.00" stroke="#1008c8" stroke-width="2.6" fill="none" stroke-linejoin="round"/>
</g>
<rect x="70.5" y="2.1" width="447.1" height="356.5" fill="none" stroke="#000" stroke-width="2"/>
<path d="M70.5 345.56h4M517.6 345.56h-4M70.5 334.13h4M517.6 334.13h-4M70.5 326.03h4M517.6 326.03h-4M70.5 319.74h4M517.6 319.74h-4M70.5 314.60h4M517.6 314.60h-4M70.5 310.25h4M517.6 310.25h-4M70.5 306.49h4M517.6 306.49h-4M70.5 303.17h4M517.6 303.17h-4M70.5 300.20h6M517.6 300.20h-6M70.5 280.66h4M517.6 280.66h-4M70.5 269.23h4M517.6 269.23h-4M70.5 261.13h4M517.6 261.13h-4M70.5 254.84h4M517.6 254.84h-4M70.5 249.70h4M517.6 249.70h-4M70.5 245.35h4M517.6 245.35h-4M70.5 241.59h4M517.6 241.59h-4M70.5 238.27h4M517.6 238.27h-4M70.5 235.30h6M517.6 235.30h-6M70.5 215.76h4M517.6 215.76h-4M70.5 204.33h4M517.6 204.33h-4M70.5 196.23h4M517.6 196.23h-4M70.5 189.94h4M517.6 189.94h-4M70.5 184.80h4M517.6 184.80h-4M70.5 180.45h4M517.6 180.45h-4M70.5 176.69h4M517.6 176.69h-4M70.5 173.37h4M517.6 173.37h-4M70.5 170.40h6M517.6 170.40h-6M70.5 150.86h4M517.6 150.86h-4M70.5 139.43h4M517.6 139.43h-4M70.5 131.33h4M517.6 131.33h-4M70.5 125.04h4M517.6 125.04h-4M70.5 119.90h4M517.6 119.90h-4M70.5 115.55h4M517.6 115.55h-4M70.5 111.79h4M517.6 111.79h-4M70.5 108.47h4M517.6 108.47h-4M70.5 105.50h6M517.6 105.50h-6M70.5 85.96h4M517.6 85.96h-4M70.5 74.53h4M517.6 74.53h-4M70.5 66.43h4M517.6 66.43h-4M70.5 60.14h4M517.6 60.14h-4M70.5 55.00h4M517.6 55.00h-4M70.5 50.65h4M517.6 50.65h-4M70.5 46.89h4M517.6 46.89h-4M70.5 43.57h4M517.6 43.57h-4M70.5 40.60h6M517.6 40.60h-6M70.5 21.06h4M517.6 21.06h-4M70.5 9.63h4M517.6 9.63h-4M83.10 358.6v-6M83.10 2.1v6M101.39 358.6v-4M101.39 2.1v4M119.68 358.6v-4M119.68 2.1v4M137.97 358.6v-4M137.97 2.1v4M156.26 358.6v-4M156.26 2.1v4M174.55 358.6v-6M174.55 2.1v6M192.84 358.6v-4M192.84 2.1v4M211.13 358.6v-4M211.13 2.1v4M229.42 358.6v-4M229.42 2.1v4M247.71 358.6v-4M247.71 2.1v4M266.00 358.6v-6M266.00 2.1v6M284.29 358.6v-4M284.29 2.1v4M302.58 358.6v-4M302.58 2.1v4M320.87 358.6v-4M320.87 2.1v4M339.16 358.6v-4M339.16 2.1v4M357.45 358.6v-6M357.45 2.1v6M375.74 358.6v-4M375.74 2.1v4M394.03 358.6v-4M394.03 2.1v4M412.32 358.6v-4M412.32 2.1v4M430.61 358.6v-4M430.61 2.1v4M448.90 358.6v-6M448.90 2.1v6M467.19 358.6v-4M467.19 2.1v4M485.48 358.6v-4M485.48 2.1v4M503.77 358.6v-4M503.77 2.1v4" stroke="#000" stroke-width="1.6" fill="none"/>
<text x="35.2" y="309.8" font-size="18.3" font-family="Liberation Sans, sans-serif">10</text>
<text x="55.2" y="298.8" font-size="11" font-family="Liberation Sans, sans-serif">3</text>
<text x="35.2" y="244.9" font-size="18.3" font-family="Liberation Sans, sans-serif">10</text>
<text x="55.2" y="233.9" font-size="11" font-family="Liberation Sans, sans-serif">4</text>
<text x="35.2" y="180.0" font-size="18.3" font-family="Liberation Sans, sans-serif">10</text>
<text x="55.2" y="169.0" font-size="11" font-family="Liberation Sans, sans-serif">5</text>
<text x="35.2" y="115.1" font-size="18.3" font-family="Liberation Sans, sans-serif">10</text>
<text x="55.2" y="104.1" font-size="11" font-family="Liberation Sans, sans-serif">6</text>
<text x="35.2" y="50.2" font-size="18.3" font-family="Liberation Sans, sans-serif">10</text>
<text x="55.2" y="39.2" font-size="11" font-family="Liberation Sans, sans-serif">7</text>
<text x="83.1" y="382.8" font-size="18.6" text-anchor="middle" font-family="Liberation Sans, sans-serif">0</text>
<text x="174.6" y="382.8" font-size="18.6" text-anchor="middle" font-family="Liberation Sans, sans-serif">1.0</text>
<text x="266.0" y="382.8" font-size="18.6" text-anchor="middle" font-family="Liberation Sans, sans-serif">2.0</text>
<text x="357.5" y="382.8" font-size="18.6" text-anchor="middle" font-family="Liberation Sans, sans-serif">3.0</text>
<text x="448.9" y="382.8" font-size="18.6" text-anchor="middle" font-family="Liberation Sans, sans-serif">4.0</text>
<text transform="translate(17.2 254.6) rotate(-90)" font-size="20" textLength="156" lengthAdjust="spacingAndGlyphs" font-family="Liberation Sans, sans-serif">Intensity [counts]</text>
<text x="261" y="414.5" font-size="20" font-family="Liberation Sans, sans-serif" textLength="50" lengthAdjust="spacingAndGlyphs">q [nm</text>
<text x="311" y="407.6" font-size="13" font-family="Liberation Sans, sans-serif">-1</text>
<text x="324.5" y="414.5" font-size="20" font-family="Liberation Sans, sans-serif">]</text>
<rect x="271.9" y="22.3" width="222.90000000000003" height="135.29999999999998" fill="#fff" stroke="#000" stroke-width="1.5"/>
<path d="M271.9 152.30h2.6M494.8 152.30h-2.6M271.9 141.94h1.6M494.8 141.94h-1.6M271.9 131.58h1.6M494.8 131.58h-1.6M271.9 121.22h1.6M494.8 121.22h-1.6M271.9 110.86h1.6M494.8 110.86h-1.6M271.9 100.50h2.6M494.8 100.50h-2.6M271.9 90.14h1.6M494.8 90.14h-1.6M271.9 79.78h1.6M494.8 79.78h-1.6M271.9 69.42h1.6M494.8 69.42h-1.6M271.9 59.06h1.6M494.8 59.06h-1.6M271.9 48.70h2.6M494.8 48.70h-2.6M271.9 38.34h1.6M494.8 38.34h-1.6M271.9 27.98h1.6M494.8 27.98h-1.6M274.05 157.6v-1.6M274.05 22.3v1.6M286.00 157.6v-1.6M286.00 22.3v1.6M297.95 157.6v-1.6M297.95 22.3v1.6M309.90 157.6v-2.6M309.90 22.3v2.6M321.85 157.6v-1.6M321.85 22.3v1.6M333.80 157.6v-1.6M333.80 22.3v1.6M345.75 157.6v-1.6M345.75 22.3v1.6M357.70 157.6v-2.6M357.70 22.3v2.6M369.65 157.6v-1.6M369.65 22.3v1.6M381.60 157.6v-1.6M381.60 22.3v1.6M393.55 157.6v-1.6M393.55 22.3v1.6M405.50 157.6v-2.6M405.50 22.3v2.6M417.45 157.6v-1.6M417.45 22.3v1.6M429.40 157.6v-1.6M429.40 22.3v1.6M441.35 157.6v-1.6M441.35 22.3v1.6M453.30 157.6v-2.6M453.30 22.3v2.6M465.25 157.6v-1.6M465.25 22.3v1.6M477.20 157.6v-1.6M477.20 22.3v1.6M489.15 157.6v-1.6M489.15 22.3v1.6" stroke="#000" stroke-width="1.2" fill="none"/>
<line x1="271.9" y1="152.3" x2="494.8" y2="152.3" stroke="#808080" stroke-width="1.5" stroke-dasharray="8.5 6.9" stroke-dashoffset="1.8"/>
<path d="M272.60 147.50 C272.92 147.47 273.62 146.72 274.50 147.30 C275.38 147.88 276.55 150.90 277.90 151.00 C279.25 151.10 280.93 149.02 282.60 147.90 C284.27 146.78 286.50 146.12 287.90 144.30 C289.30 142.48 290.12 139.63 291.00 137.00 C291.88 134.37 292.48 131.50 293.20 128.50 C293.92 125.50 294.45 123.25 295.30 119.00 C296.15 114.75 297.27 109.48 298.30 103.00 C299.33 96.52 300.47 87.27 301.50 80.10 C302.53 72.93 303.58 64.85 304.50 60.00 C305.42 55.15 306.32 52.83 307.00 51.00 C307.68 49.17 308.02 49.00 308.60 49.00 C309.18 49.00 309.77 49.17 310.50 51.00 C311.23 52.83 312.18 55.15 313.00 60.00 C313.82 64.85 314.30 72.93 315.40 80.10 C316.50 87.27 318.55 96.52 319.60 103.00 C320.65 109.48 320.82 114.05 321.70 119.00 C322.58 123.95 323.67 129.00 324.90 132.70 C326.13 136.40 327.33 138.92 329.10 141.20 C330.87 143.48 333.38 144.85 335.50 146.40 C337.62 147.95 339.87 149.52 341.80 150.50 C343.73 151.48 345.40 152.30 347.10 152.30 C348.80 152.30 350.23 151.20 352.00 150.50 C353.77 149.80 356.03 148.13 357.70 148.10 C359.37 148.07 360.78 149.70 362.00 150.30 C363.22 150.90 363.50 151.83 365.00 151.70 C366.50 151.57 368.87 150.42 371.00 149.50 C373.13 148.58 375.97 146.45 377.80 146.20 C379.63 145.95 380.55 146.98 382.00 148.00 C383.45 149.02 384.58 150.97 386.50 152.30 C388.42 153.63 391.42 155.63 393.50 156.00 C395.58 156.37 397.08 155.12 399.00 154.50 C400.92 153.88 403.17 152.42 405.00 152.30 C406.83 152.18 408.47 153.48 410.00 153.80 C411.53 154.12 411.95 154.25 414.20 154.20 C416.45 154.15 420.42 153.67 423.50 153.50 C426.58 153.33 430.53 152.98 432.70 153.20 C434.87 153.42 435.15 154.40 436.50 154.80 C437.85 155.20 438.75 156.40 440.80 155.60 C442.85 154.80 446.43 151.77 448.80 150.00 C451.17 148.23 453.07 146.13 455.00 145.00 C456.93 143.87 458.57 143.15 460.40 143.20 C462.23 143.25 464.08 144.37 466.00 145.30 C467.92 146.23 469.37 147.63 471.90 148.80 C474.43 149.97 478.52 151.55 481.20 152.30 C483.88 153.05 485.87 153.08 488.00 153.30 C490.13 153.52 493.00 153.55 494.00 153.60" stroke="#1008c8" stroke-width="2.3" fill="none" stroke-linejoin="round"/>
<text x="265.4" y="53.1" font-size="12.4" text-anchor="end" font-family="Liberation Sans, sans-serif">0.20</text>
<text x="265.4" y="104.9" font-size="12.4" text-anchor="end" font-family="Liberation Sans, sans-serif">0.10</text>
<text x="265.4" y="156.7" font-size="12.4" text-anchor="end" font-family="Liberation Sans, sans-serif">0</text>
<text x="309.9" y="174.6" font-size="12.4" text-anchor="middle" font-family="Liberation Sans, sans-serif">20</text>
<text x="357.7" y="174.6" font-size="12.4" text-anchor="middle" font-family="Liberation Sans, sans-serif">40</text>
<text x="405.5" y="174.6" font-size="12.4" text-anchor="middle" font-family="Liberation Sans, sans-serif">60</text>
<text x="453.3" y="174.6" font-size="12.4" text-anchor="middle" font-family="Liberation Sans, sans-serif">80</text>
<text x="313.2" y="193" font-size="12.7" font-family="Liberation Sans, sans-serif" textLength="134.5" lengthAdjust="spacingAndGlyphs">Particle diameter D [nm]</text>
<text transform="translate(234 152.5) rotate(-90)" font-size="12.6" textLength="122.5" lengthAdjust="spacingAndGlyphs" font-family="Liberation Sans, sans-serif">Distribution by volume</text>
<path d="M305.60 25.6V39.10H303.10L308.30 44.9L313.50 39.10H311.00V25.6Z" fill="#000"/>
<path d="M457.50 121.8V135.10H455.00L460.20 140.9L465.40 135.10H462.90V121.8Z" fill="#000"/>
<text x="323" y="44.8" font-size="14.2" font-family="Liberation Sans, sans-serif" font-weight="bold" textLength="55" lengthAdjust="spacingAndGlyphs">19.5 nm</text>
<text x="323" y="64.3" font-size="14.2" font-family="Liberation Sans, sans-serif" font-weight="bold" textLength="62" lengthAdjust="spacingAndGlyphs">94 vol.-%</text>
<text x="431.6" y="95.8" font-size="14.2" font-family="Liberation Sans, sans-serif" font-weight="bold" textLength="54.6" lengthAdjust="spacingAndGlyphs">82.8 nm</text>
<text x="431.2" y="115.3" font-size="14.2" font-family="Liberation Sans, sans-serif" font-weight="bold" textLength="54.8" lengthAdjust="spacingAndGlyphs">6 vol.-%</text>
</svg>
</body></html>
